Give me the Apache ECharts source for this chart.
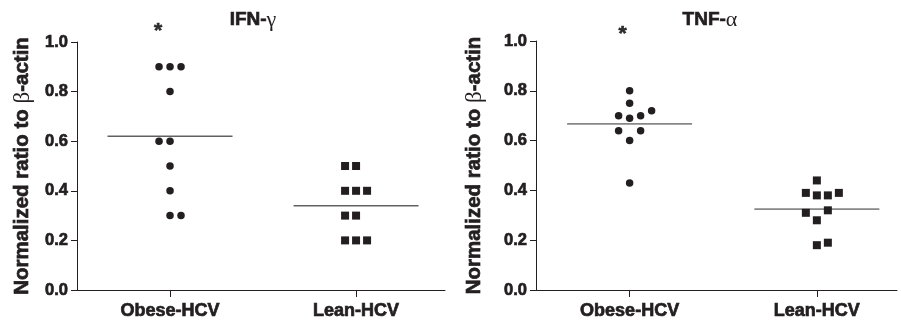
<!DOCTYPE html>
<html>
<head>
<meta charset="utf-8">
<script src="https://cdn.jsdelivr.net/npm/echarts@6/dist/echarts.min.js"></script>
<style>
html,body{margin:0;padding:0;background:#fff;}
#c{width:901px;height:323px;}
</style>
</head>
<body>
<div id="c"></div>
<script>
// ---- data ----
const categories = ['Obese-HCV', 'Lean-HCV'];
const yTicks = [0, 0.2, 0.4, 0.6, 0.8, 1.0];

const ifnObese = [0.90, 0.90, 0.90, 0.80, 0.60, 0.60, 0.50, 0.40, 0.30, 0.30];
const ifnLean  = [0.50, 0.50, 0.40, 0.40, 0.40, 0.30, 0.30, 0.20, 0.20, 0.20];
const ifnMeans = [0.62, 0.34];

const tnfObese = [0.80, 0.75, 0.72, 0.70, 0.70, 0.69, 0.64, 0.64, 0.60, 0.43];
const tnfLean  = [0.44, 0.39, 0.39, 0.38, 0.38, 0.31, 0.32, 0.28, 0.18, 0.19];
const tnfMeans = [0.667, 0.325];

// significance marker (category index)
const significant = [0];

// ---- layout (dodge slots for overlapping points, not data) ----
const ifnObeseSlot = [-1, 0, 1, 0, -1, 0, 0, 0, 0, 1];
const ifnLeanSlot  = [-1, 0, -1, 0, 1, -1, 0, -1, 0, 1];
const tnfObeseSlot = [0, 0, 2, -1, 1, 0, -1, 1, 0, 0];
const tnfLeanSlot  = [0, -1, 2, 0, 1, -1, 1, 0, 0, 1];

const INK = '#231f20';
const FONT = 'Liberation Sans';
const SLOT_PX = 11;
const HEAVY = {textBorderColor: INK, textBorderWidth: 0.7};

const chart = echarts.init(document.getElementById('c'), null, {renderer: 'canvas'});

function pts(cat, vals, slots, symbol, size, axisIdx) {
  return {
    type: 'scatter', xAxisIndex: axisIdx, yAxisIndex: axisIdx,
    symbol: symbol, symbolSize: size, clip: false,
    itemStyle: {color: INK, opacity: 1},
    emphasis: {disabled: true},
    data: vals.map((v, i) => ({value: [cat, v], symbolOffset: [slots[i] * SLOT_PX, 0]}))
  };
}
function meanLine(means, axisIdx, color) {
  return {
    type: 'scatter', xAxisIndex: axisIdx, yAxisIndex: axisIdx,
    symbol: 'rect', symbolSize: [125, 1.6], clip: false, z: 1,
    itemStyle: {color: color},
    emphasis: {disabled: true},
    data: means.map((m, i) => [i, m])
  };
}
function sig(axisIdx, offset) {
  return {
    type: 'scatter', xAxisIndex: axisIdx, yAxisIndex: axisIdx,
    symbolSize: 0, clip: false, silent: true,
    label: Object.assign({show: true, position: 'inside', formatter: '*', offset: offset,
      fontFamily: FONT, fontWeight: 'bold', fontSize: 21, color: '#000'}, HEAVY),
    data: significant.map(c => [c, 1.0])
  };
}

function xAxis(idx, max) {
  return {
    type: 'value', gridIndex: idx, min: -0.5, max: max,
    splitLine: {show: false},
    axisLine: {show: true, onZero: false, lineStyle: {color: INK, width: 1}},
    axisTick: {show: true, length: 7, inside: false, customValues: [0, 1], lineStyle: {color: INK}},
    axisLabel: Object.assign({show: true, customValues: [0, 1], margin: 12,
      formatter: v => categories[Math.round(v)] || '',
      fontFamily: FONT, fontWeight: 'bold', fontSize: 18, color: INK}, HEAVY)
  };
}
function yAxis(idx, gap) {
  return {
    type: 'value', gridIndex: idx, min: yTicks[0], max: yTicks[yTicks.length - 1], interval: 0.2,
    splitLine: {show: false},
    axisLine: {show: true, onZero: false, lineStyle: {color: INK, width: 1}},
    axisTick: {show: true, length: 6, lineStyle: {color: INK}},
    axisLabel: Object.assign({margin: 9, formatter: v => v.toFixed(1),
      fontFamily: FONT, fontWeight: 'bold', fontSize: 16.5, color: INK}, HEAVY),
    name: '{b|Normalized ratio to }{g|β}{b|-actin}',
    nameLocation: 'middle', nameGap: gap, nameRotate: 90,
    nameTextStyle: {
      rich: {
        b: Object.assign({fontFamily: FONT, fontWeight: 'bold', fontSize: 20.5, color: INK}, HEAVY),
        g: {fontFamily: 'Liberation Serif', fontWeight: 'normal', fontSize: 23, color: INK}
      }
    }
  };
}

const titleRich = {
  b: {fontFamily: FONT, fontWeight: 'bold', fontSize: 19, fill: INK, stroke: INK, lineWidth: 0.7},
  g: {fontFamily: 'Liberation Serif', fontWeight: 'normal', fontSize: 22, fill: INK}
};

chart.setOption({
  animation: false,
  backgroundColor: '#ffffff',
  grid: [
    {left: 77, top: 42, width: 368, height: 248},
    {left: 536, top: 41, width: 361, height: 249}
  ],
  xAxis: [xAxis(0, 1.478), xAxis(1, 1.428)],
  yAxis: [yAxis(0, 43), yAxis(1, 50)],
  graphic: [
    {type: 'text', x: 253, y: 20, style: {text: '{b|IFN-}{g|γ}', rich: titleRich, align: 'center', verticalAlign: 'middle'}},
    {type: 'text', x: 710, y: 20, style: {text: '{b|TNF-}{g|α}', rich: titleRich, align: 'center', verticalAlign: 'middle'}}
  ],
  series: [
    meanLine(ifnMeans, 0, '#3a3a3a'),
    pts(0, ifnObese, ifnObeseSlot, 'circle', 7.5, 0),
    pts(1, ifnLean, ifnLeanSlot, 'rect', 8, 0),
    sig(0, [-12, -11]),
    meanLine(tnfMeans, 1, '#6a6a6a'),
    pts(0, tnfObese, tnfObeseSlot, 'circle', 7.5, 1),
    pts(1, tnfLean, tnfLeanSlot, 'rect', 8, 1),
    sig(1, [-7, -7])
  ]
});
</script>
</body>
</html>
